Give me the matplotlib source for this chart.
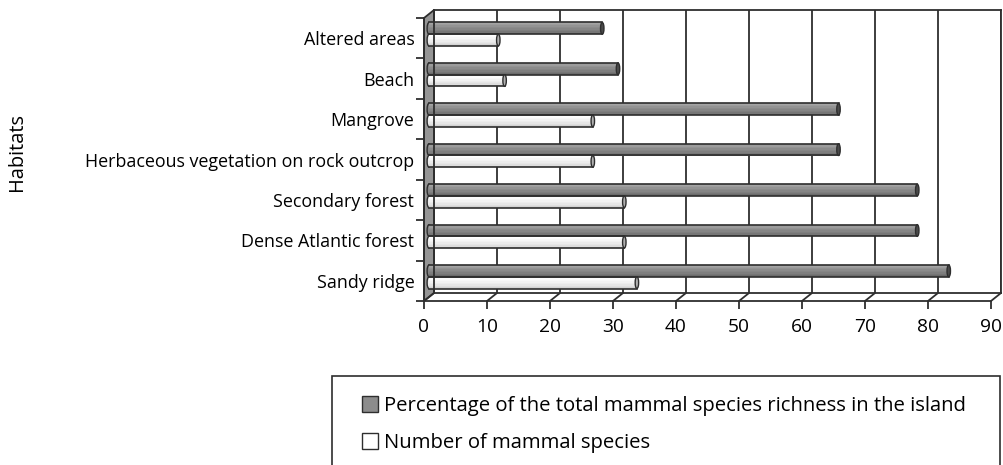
import numpy as np
import matplotlib.pyplot as plt
from matplotlib.patches import Polygon, Ellipse, Patch, Rectangle, ConnectionPatch
from matplotlib.transforms import ScaledTranslation

plt.rcParams['font.family'] = ['Open Sans', 'DejaVu Sans']

# data, bottom to top
habitats = ['Sandy ridge', 'Dense Atlantic forest', 'Secondary forest',
            'Herbaceous vegetation on rock outcrop', 'Mangrove', 'Beach',
            'Altered areas']
n_species = [33, 31, 31, 26, 26, 12, 11]
pct_richness = [82.5, 77.5, 77.5, 65, 65, 30, 27.5]
xticks = list(range(0, 91, 10))
series_names = ['Percentage of the total mammal species richness in the island',
                'Number of mammal species']

W, H = 1004, 465
fig = plt.figure(figsize=(W / 100, H / 100), dpi=100)
line_c = '#2e2e2e'
fs = 12.9
fs_leg = 14.6

# back wall of the 3d box
ax = fig.add_axes([434 / W, 1 - 293 / H, 567 / W, 283 / H])
ax.set_xticks(xticks)
ax.set_yticks([])
ax.tick_params(length=0, labelbottom=False)
ax.grid(axis='x', color=line_c, lw=1.3)
ax.set_axisbelow(True)
for s in ax.spines.values():
    s.set_color(line_c)
    s.set_linewidth(1.3)

# front plane: ticks and labels
fx = fig.add_axes([424 / W, 1 - 301 / H, 567 / W, 283 / H])
fx.patch.set_visible(False)
fx.spines['top'].set_visible(False)
fx.spines['right'].set_visible(False)
for s in ['left', 'bottom']:
    fx.spines[s].set_color(line_c)
    fx.spines[s].set_linewidth(1.3)
fx.set_xticks(xticks)
fx.set_xticklabels([str(t) for t in xticks], fontsize=13.8)
fx.set_yticks(np.arange(len(habitats) + 1))
fx.set_yticklabels([])
fx.set_yticks(np.arange(len(habitats)) + 0.5, minor=True)
fx.set_yticklabels(habitats, minor=True, fontsize=fs)
fx.tick_params(axis='both', which='major', length=6, width=1.3, color=line_c, pad=5)
fx.tick_params(axis='x', pad=6)
fx.tick_params(axis='y', which='minor', length=0, pad=7)

for a in (ax, fx):
    a.set_xlim(0, 90)
    a.set_ylim(0, len(habitats))

# depth connectors (floor ticks) and the grey side wall
to_fig = fig.transFigure.inverted()
for t in xticks:
    fig.add_artist(ConnectionPatch((t, 0), (t, 0), coordsA=fx.transData,
                                   coordsB=ax.transData, color=line_c, lw=1.3))
n = len(habitats)
corners = [fx.transData.transform((0, 0)), fx.transData.transform((0, n)),
           ax.transData.transform((0, n)), ax.transData.transform((0, 0))]
corners = to_fig.transform(np.array(corners))
ax.add_patch(Polygon(corners, closed=True, transform=fig.transFigure,
                     facecolor='#959595', edgecolor=line_c, lw=1.3,
                     clip_on=False, zorder=0.5))

# cylinder bars, half way between front and back
mid = ax.transData + ScaledTranslation(-5 / 100, -4 / 100, fig.dpi_scale_trans)
h = 0.29
dark_grad = ['#a4a4a4', '#9c9c9c', '#939393', '#8b8b8b', '#858585',
             '#7e7e7e', '#767676', '#6b6b6b']
light_grad = ['#ffffff', '#fcfcfc', '#f7f7f7', '#f2f2f2', '#ececec',
              '#e6e6e6', '#dedede', '#d3d3d3']


def cylinders(ys, ws, grad, cap):
    nb = len(grad)
    for y in ys:
        ax.add_patch(Ellipse((0, y), 0.6, h, facecolor=grad[nb // 2],
                             edgecolor=line_c, lw=1.0, transform=mid,
                             clip_on=False, zorder=1.9))
    for k, c in enumerate(grad):
        ax.barh(ys + h / 2 - (k + 0.5) * h / nb, ws, height=h / nb, color=c,
                lw=0, transform=mid, clip_on=False, zorder=2)
    for y, w in zip(ys, ws):
        ax.plot([0, w], [y + h / 2, y + h / 2], color=line_c, lw=1.2,
                transform=mid, clip_on=False, zorder=3)
        ax.plot([0, w], [y - h / 2, y - h / 2], color=line_c, lw=1.2,
                transform=mid, clip_on=False, zorder=3)
        ax.add_patch(Ellipse((w, y), 0.55, h, facecolor=cap, edgecolor=line_c,
                             lw=1.0, transform=mid, clip_on=False, zorder=4))


pos = np.arange(n) + 0.5
cylinders(pos + h / 2, np.array(pct_richness), dark_grad, '#4a4a4a')
cylinders(pos - h / 2, np.array(n_species), light_grad, '#b0b0b0')

fig.text(17 / W, 1 - 152 / H, 'Habitats', rotation=90, ha='center',
         va='center', fontsize=14.4)

# legend with a frame that runs off the bottom
handles = [Patch(facecolor='#8c8c8c', edgecolor=line_c),
           Patch(facecolor='white', edgecolor=line_c)]
fig.legend(handles, series_names, loc='upper left',
           bbox_to_anchor=(362 / W, 1 - 396 / H), frameon=False, borderpad=0,
           borderaxespad=0, handlelength=0.8, handleheight=0.8,
           handletextpad=0.3, labelspacing=0.85, fontsize=fs_leg)
fig.add_artist(Rectangle((332 / W, -0.05), (1000 - 332) / W, 0.05 + 1 - 376 / H,
                         transform=fig.transFigure, fill=False,
                         edgecolor=line_c, lw=1.2))

fig.savefig('out.png', dpi=100)
